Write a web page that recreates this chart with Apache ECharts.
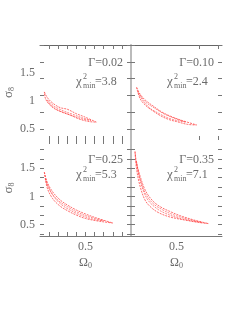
<!DOCTYPE html>
<html><head><meta charset="utf-8">
<script src="https://cdn.jsdelivr.net/npm/echarts@6/dist/echarts.min.js"></script>
<style>html,body{margin:0;padding:0;background:#fff}#c{width:243px;height:327px}</style>
</head><body><div id="c"></div>
<script>
// ---- text / ticks ----
const gammaLabels = ['Γ=0.02', 'Γ=0.10', 'Γ=0.25', 'Γ=0.35'];
const chi2Values = ['3.8', '2.4', '5.3', '7.1'];
const xTicksLeft = [0.3, 0.35, 0.4, 0.45, 0.5, 0.55, 0.6, 0.65, 0.7];
const xTicksRight = [0.625, 0.73];
const xLabelValues = [0.5];
const yLabelValues = [0.5, 1, 1.5];
const yTicksTop = [0.5, 0.8, 1.1, 1.4, 1.7, 2.0];
const yTicksBottom = [0.333, 0.5, 0.667, 0.833, 1, 1.167, 1.333, 1.5, 1.667, 1.833];

// ---- contours (Omega_0, sigma_8) ----
// Gamma = 0.02
const omegaA1 = [0.274,0.29,0.32,0.36,0.40,0.45,0.49,0.56,0.52,0.47,0.42,0.37,0.33,0.30,0.28,0.274];
const sigmaA1 = [1.16,1.06,0.96,0.88,0.85,0.77,0.72,0.62,0.63,0.67,0.74,0.80,0.86,0.94,1.04,1.16];
const omegaA2 = [0.29,0.33,0.38,0.43,0.48,0.53,0.49,0.44,0.39,0.34,0.30,0.29];
const sigmaA2 = [1.02,0.90,0.82,0.76,0.70,0.65,0.67,0.72,0.78,0.85,0.96,1.02];
// Gamma = 0.10
const omegaB1 = [0.281,0.30,0.33,0.373,0.42,0.464,0.52,0.61,0.56,0.50,0.464,0.42,0.373,0.33,0.30,0.281];
const sigmaB1 = [1.24,1.12,1.01,0.905,0.80,0.73,0.66,0.57,0.58,0.63,0.66,0.72,0.815,0.92,1.04,1.24];
const omegaB2 = [0.29,0.33,0.38,0.43,0.48,0.55,0.50,0.45,0.40,0.35,0.31,0.29];
const sigmaB2 = [1.15,0.98,0.87,0.77,0.70,0.62,0.65,0.70,0.78,0.88,1.03,1.15];
// Gamma = 0.25
const omegaC1 = [0.274,0.29,0.32,0.36,0.40,0.45,0.50,0.56,0.65,0.60,0.56,0.50,0.45,0.40,0.36,0.32,0.29,0.274];
const sigmaC1 = [1.43,1.25,1.08,0.94,0.85,0.76,0.69,0.62,0.53,0.55,0.57,0.61,0.67,0.75,0.83,0.96,1.15,1.43];
const omegaC2 = [0.28,0.31,0.35,0.40,0.45,0.52,0.60,0.55,0.48,0.42,0.37,0.33,0.29,0.28];
const sigmaC2 = [1.32,1.08,0.93,0.82,0.73,0.64,0.57,0.59,0.66,0.75,0.85,0.98,1.20,1.32];
// Gamma = 0.35
const omegaD1 = [0.272,0.28,0.30,0.33,0.37,0.41,0.46,0.52,0.60,0.675,0.62,0.55,0.50,0.46,0.41,0.37,0.33,0.30,0.28,0.272];
const sigmaD1 = [1.80,1.60,1.36,1.10,0.92,0.82,0.74,0.66,0.58,0.52,0.54,0.58,0.61,0.64,0.70,0.78,0.92,1.18,1.50,1.80];
const omegaD2 = [0.28,0.30,0.33,0.37,0.42,0.48,0.56,0.64,0.58,0.51,0.44,0.39,0.34,0.31,0.285,0.28];
const sigmaD2 = [1.62,1.30,1.05,0.88,0.77,0.68,0.60,0.54,0.57,0.62,0.70,0.79,0.95,1.18,1.50,1.62];

const contours = [
  [[omegaA1, sigmaA1], [omegaA2, sigmaA2]],
  [[omegaB1, sigmaB1], [omegaB2, sigmaB2]],
  [[omegaC1, sigmaC1], [omegaC2, sigmaC2]],
  [[omegaD1, sigmaD1], [omegaD2, sigmaD2]]
];

const FONT = 'Liberation Serif';
const TXT = '#6a6a6a';
const grids = [
  {left: 40, top: 45, width: 91, height: 95},
  {left: 131, top: 45, width: 91, height: 95},
  {left: 40, top: 140, width: 91, height: 96},
  {left: 131, top: 140, width: 91, height: 96}
];

const xAxes = [], yAxes = [], series = [];
grids.forEach((g, i) => {
  const isLeft = (i % 2 === 0), isTop = i < 2;
  const xt = isLeft ? xTicksLeft : xTicksRight;
  xAxes.push({
    gridIndex: i, type: 'value', min: 0.25, max: 0.75, position: 'bottom',
    axisLine: {show: !isTop, lineStyle: {color: '#777', width: 1}},
    axisTick: {show: !(i === 3), inside: true, length: 4, customValues: xt, lineStyle: {color: '#777'}},
    axisLabel: {show: !isTop, customValues: xLabelValues, color: TXT, fontFamily: FONT, fontSize: 12, margin: 5},
    splitLine: {show: false},
    name: isTop ? '' : '{o|Ω}{s|0}', nameLocation: 'middle', nameGap: 20,
    nameTextStyle: {rich: {o: {fontFamily: FONT, fontSize: 12, color: TXT}, s: {fontFamily: FONT, fontSize: 8, color: TXT, verticalAlign: 'bottom', padding: [6, 0, 0, 0]}}}
  });
  xAxes.push({
    gridIndex: i, type: 'value', min: 0.25, max: 0.75, position: 'top',
    axisLine: {show: isTop, lineStyle: {color: '#666', width: 1}},
    axisTick: {show: !(i === 3), inside: true, length: 4, customValues: xt, lineStyle: {color: '#777'}},
    axisLabel: {show: false}, splitLine: {show: false}
  });
  const yt = isTop ? yTicksTop : yTicksBottom;
  yAxes.push({
    gridIndex: i, type: 'value', min: 0.3, max: 2.0, position: 'left',
    axisLine: {show: !isLeft, lineStyle: {color: '#bbb', width: 2}},
    axisTick: {show: true, inside: true, length: 4, customValues: yt, lineStyle: {color: '#777'}},
    axisLabel: {show: isLeft, customValues: yLabelValues, color: TXT, fontFamily: FONT, fontSize: 12, margin: 5},
    splitLine: {show: false},
    name: isLeft ? '{o|σ}{s|8}' : '', nameLocation: 'middle', nameGap: 24, nameRotate: 90,
    nameTextStyle: {rich: {o: {fontFamily: FONT, fontSize: 13, color: TXT}, s: {fontFamily: FONT, fontSize: 8, color: TXT, verticalAlign: 'bottom', padding: [6, 0, 0, 0]}}}
  });
  yAxes.push({
    gridIndex: i, type: 'value', min: 0.3, max: 2.0, position: 'right',
    axisLine: {show: false},
    axisTick: {show: true, inside: true, length: 4, customValues: yt, lineStyle: {color: '#777'}},
    axisLabel: {show: false}, splitLine: {show: false}
  });
  contours[i].forEach(([om, sg], k) => {
    series.push({
      type: 'line', xAxisIndex: 2 * i, yAxisIndex: 2 * i,
      data: om.map((o, j) => [o, sg[j]]),
      showSymbol: false, smooth: 0.35, silent: true,
      lineStyle: {color: '#ff3030', width: 1, type: [2, 1], opacity: k === 0 ? 0.7 : 0.55}
    });
  });
});

const gRight = [123, 214], gTopY = [63, 160], chiLeft = [76, 167], chiY = [82, 175];
const graphic = [];
gammaLabels.forEach((lab, i) => {
  const col = i % 2, row = Math.floor(i / 2);
  graphic.push({type: 'text', x: gRight[col], y: gTopY[row],
    style: {text: lab, fill: TXT, font: '12px "' + FONT + '"', textAlign: 'right', textVerticalAlign: 'middle'}});
  const x0 = chiLeft[col], y0 = chiY[row];
  graphic.push({type: 'text', x: x0, y: y0, style: {text: 'χ', fill: TXT, font: '13px "' + FONT + '"', textAlign: 'left', textVerticalAlign: 'middle'}});
  graphic.push({type: 'text', x: x0 + 7, y: y0 - 5, style: {text: '2', fill: TXT, font: '8px "' + FONT + '"', textAlign: 'left', textVerticalAlign: 'middle'}});
  graphic.push({type: 'text', x: x0 + 7, y: y0 + 4, style: {text: 'min', fill: TXT, font: '8px "' + FONT + '"', textAlign: 'left', textVerticalAlign: 'middle'}});
  graphic.push({type: 'text', x: x0 + 19, y: y0, style: {text: '=' + chi2Values[i], fill: TXT, font: '12px "' + FONT + '"', textAlign: 'left', textVerticalAlign: 'middle'}});
});

const chart = echarts.init(document.getElementById('c'), null, {renderer: 'canvas'});
chart.setOption({
  animation: false, backgroundColor: '#fff',
  grid: grids, xAxis: xAxes, yAxis: yAxes, series: series, graphic: graphic
});
</script></body></html>
